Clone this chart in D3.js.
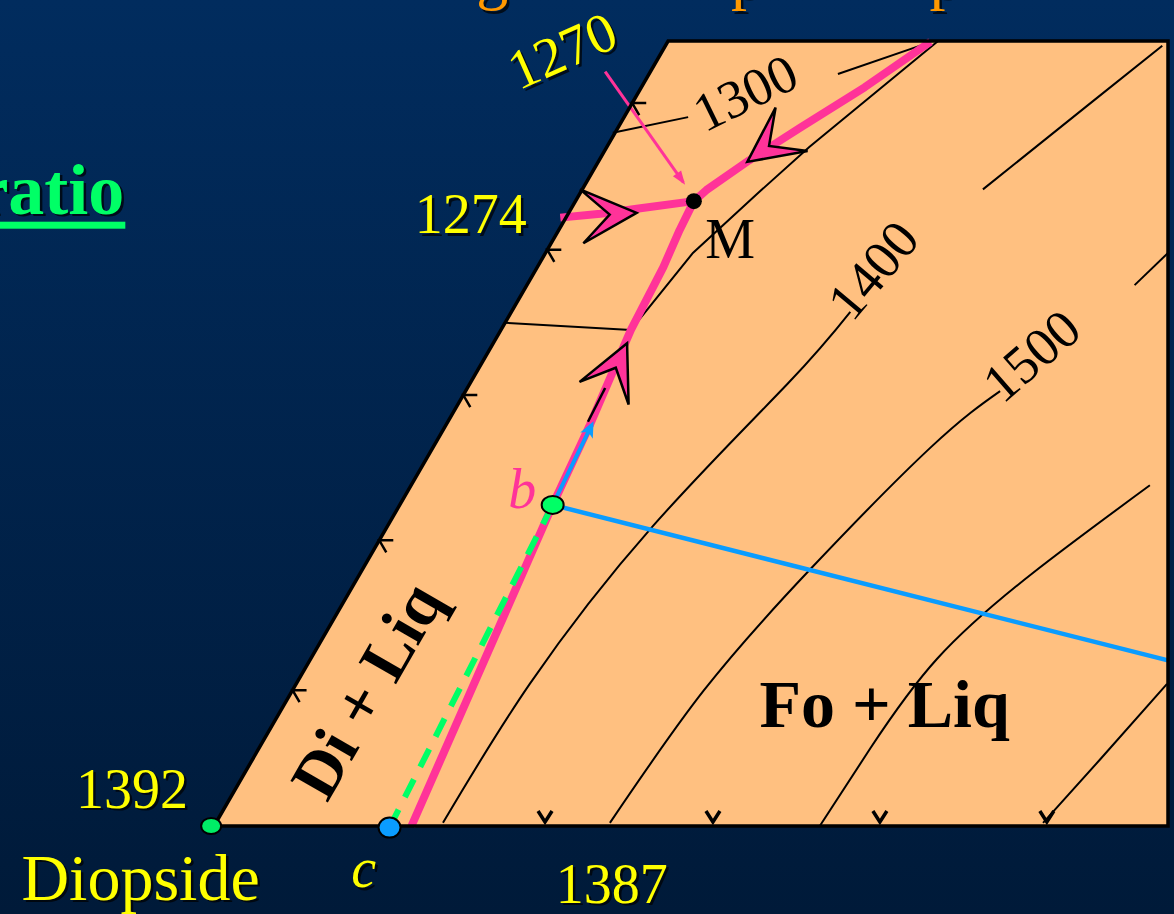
<!DOCTYPE html>
<html>
<head>
<meta charset="utf-8">
<script src="https://cdn.jsdelivr.net/npm/d3@7"></script>
<style>
  body { margin: 0; overflow: hidden; background: #001c3c; }
  text { font-family: 'Liberation Serif', 'Times New Roman', serif; }
</style>
</head>
<body>
<div id="chart"></div>
<script>
const width = 1174, height = 914

// coordinates: x = % across the frame (Diopside side = 0), y = % up the frame
const outline = [[0, 0], [100, 0], [100, 100], [47.6, 100]]

// liquidus isotherms (black)
const iso1300a = [[41.8, 88.3], [49.7, 90.3]]
const iso1300b = [[65.4, 95.8], [74.5, 99.6]]
const isoEdge = [[75.9, 100], [62.4, 86.5], [57.0, 80.6], [50.2, 73.0], [43.7, 63.2]]
const isoTie = [[30.5, 64.1], [43.7, 63.2]]
const iso1400a = [[24.0, 0.4], [33.1, 18.1], [46.0, 38.2], [60.1, 56.3], [66.7, 65.5]]
const iso1400b = [[80.6, 81.1], [92.3, 92.5], [99.4, 99.4]]
const iso1500a = [[41.5, 0.4], [51.3, 17.2], [62.5, 32.7], [75.1, 48.2], [82.4, 55.4]]
const iso1500b = [[96.5, 68.9], [100, 73.0]]
const iso1600 = [[63.5, 0], [68.8, 9.9], [75.8, 21.3], [85.8, 32.2], [98.1, 43.4]]
const iso1700 = [[86.9, 0.4], [92.9, 8.5], [99.9, 18.1]]

// cotectic / crystallization path (pink)
const pathMain = [[20.7, 0], [35.5, 40.9], [39.4, 51.1], [43.7, 63.2], [47.1, 71.2], [48.8, 75.9], [50.3, 79.6]]
const pathUpper = [[50.3, 79.6], [51.6, 81.0], [56.1, 84.8], [61.5, 89.0], [68.2, 94.1], [75.1, 99.9]]
const pathLeft = [[36.3, 77.5], [40.5, 78.0], [44.7, 78.7], [50.3, 79.6]]
const pointer1270 = [[41.0, 96.1], [49.2, 82.0]]

// arrowheads: tip and a point behind it on the same line
const arrows = [
  { tip: [43.3, 61.5], from: [35.5, 40.9] },
  { tip: [44.3, 78.1], from: [36.3, 77.5] },
  { tip: [55.9, 84.6], from: [62.5, 90.5] }
]

// liquid path of bulk composition
const pointB = [35.5, 40.9]
const pointC = [18.4, -0.2]
const pointDi = [-0.3, 0]
const pointM = [50.3, 79.6]
const blueArrow = [[35.5, 40.9], [39.6, 51.1]]
const blueTie = [[35.5, 40.9], [100, 21.1]]
const blackBit = [[39.2, 51.5], [41.0, 55.8]]

// ticks
const leftTicks = [17.3, 36.4, 54.9, 73.4, 92.1]
const bottomTicks = [34.7, 52.3, 69.8, 87.3]

// labels
const yellowLabels = [
  { t: '1274', p: [26.9, 75.5] },
  { t: '1392', p: [-8.6, 2.3] },
  { t: '1387', p: [41.7, -9.8] }
]
const label1270 = { t: '1270', p: [36.5, 98.8] }
const isoLabels = [
  { t: '1300', p: [55.7, 93.4], r: -26 },
  { t: '1400', p: [69.1, 70.8], r: -50 },
  { t: '1500', p: [85.7, 59.9], r: -41 }
]
const titleGlyphs = [{ t: 'g', p: [27.5, 105.6] }, { t: 'p', p: [54.2, 105.6] }, { t: 'p', p: [75.0, 105.6] }]

const x = d3.scaleLinear().domain([0, 100]).range([214, 1168])
const y = d3.scaleLinear().domain([0, 100]).range([826, 41])
const line = d3.line().x(d => x(d[0])).y(d => y(d[1]))
const smooth = d3.line().x(d => x(d[0])).y(d => y(d[1])).curve(d3.curveNatural)

const svg = d3.select('#chart').append('svg')
  .attr('width', width).attr('height', height)

const defs = svg.append('defs')
const grad = defs.append('linearGradient').attr('id', 'bg')
  .attr('x1', 0).attr('y1', 0).attr('x2', 0).attr('y2', 1)
grad.append('stop').attr('offset', '0%').attr('stop-color', '#012c5e')
grad.append('stop').attr('offset', '100%').attr('stop-color', '#001a39')

svg.append('rect').attr('width', width).attr('height', height).attr('fill', 'url(#bg)')

// shadowed text helper
function shadowText(g, d, color, size, opts = {}) {
  const tr = opts.rotate ? ` rotate(${opts.rotate})` : ''
  const base = `translate(${x(d.p[0])},${y(d.p[1])})${tr}`
  ;[['#000', 2.5], [color, 0]].forEach(([c, off]) => {
    g.append('text')
      .attr('transform', `translate(${off},${off}) ` + base)
      .attr('text-anchor', opts.anchor || 'middle')
      .attr('dominant-baseline', opts.central ? 'central' : 'auto')
      .style('font-size', size + 'px')
      .style('font-style', opts.italic ? 'italic' : 'normal')
      .style('font-weight', opts.bold ? 'bold' : 'normal')
      .attr('fill', c)
      .attr('opacity', off ? 0.7 : 1)
      .text(d.t)
  })
}

// title descenders, cut by the top of the frame
titleGlyphs.forEach(d => shadowText(svg, d, '#ff9900', 64, { anchor: 'start' }))

// "ratio" (underlined)
const ratio = { t: 'ratio', p: [-9.4, 78.0] }
shadowText(svg, ratio, '#00ff66', 72, { anchor: 'end', bold: true })
svg.append('rect')
  .attr('x', 0).attr('y', y(78.0) + 8)
  .attr('width', x(-9.4) + 1).attr('height', 7)
  .attr('fill', '#00ff66')

// field
svg.append('path')
  .attr('d', line(outline) + 'Z')
  .attr('fill', '#ffc080')

// isotherms
;[iso1400a, iso1500a, iso1600, iso1700].forEach(d => {
  svg.append('path').attr('d', smooth(d)).attr('fill', 'none')
    .attr('stroke', '#000').attr('stroke-width', 2)
})
;[iso1300a, iso1300b, isoEdge, isoTie, iso1400b, iso1500b].forEach(d => {
  svg.append('path').attr('d', line(d)).attr('fill', 'none')
    .attr('stroke', '#000').attr('stroke-width', 2)
})

// ticks on the left side
svg.selectAll('.ltick').data(leftTicks).join('path')
  .attr('class', 'ltick')
  .attr('d', d => {
    const px = x(47.6 * d / 100), py = y(d)
    return `M${px + 14},${py}L${px},${py}L${px + 7},${py + 12}`
  })
  .attr('fill', 'none').attr('stroke', '#000').attr('stroke-width', 2.5)

// ticks on the bottom side
svg.selectAll('.btick').data(bottomTicks).join('path')
  .attr('class', 'btick')
  .attr('d', d => {
    const px = x(d), py = y(0) - 4
    return `M${px - 7},${py - 11}L${px},${py}L${px + 7},${py - 11}`
  })
  .attr('fill', 'none').attr('stroke', '#000').attr('stroke-width', 3.5)

// blue tie line
svg.append('path').attr('d', line(blueTie))
  .attr('stroke', '#0a9cff').attr('stroke-width', 4.5).attr('fill', 'none')

// pink crystallization path
;[pathMain, pathUpper, pathLeft].forEach(d => {
  svg.append('path').attr('d', line(d)).attr('fill', 'none')
    .attr('stroke', '#ff3399').attr('stroke-width', 8)
    .attr('stroke-linejoin', 'round')
})

// green dashed line c -> b
svg.append('path').attr('d', line([pointC, pointB]))
  .attr('stroke', '#00ff66').attr('stroke-width', 6)
  .attr('stroke-dasharray', '20,14').attr('fill', 'none')

// blue arrow b -> up
svg.append('path').attr('d', line(blueArrow))
  .attr('stroke', '#0a9cff').attr('stroke-width', 4).attr('fill', 'none')
{
  const [f, t] = blueArrow
  const a = Math.atan2(y(t[1]) - y(f[1]), x(t[0]) - x(f[0])) * 180 / Math.PI
  svg.append('path')
    .attr('d', 'M4,0L-12,-7L-8,0L-12,7Z')
    .attr('transform', `translate(${x(t[0])},${y(t[1])}) rotate(${a})`)
    .attr('fill', '#0a9cff')
}
svg.append('path').attr('d', line(blackBit))
  .attr('stroke', '#000').attr('stroke-width', 2.5)

// pink arrowheads
arrows.forEach(d => {
  const tx = x(d.tip[0]), ty = y(d.tip[1])
  const a = Math.atan2(ty - y(d.from[1]), tx - x(d.from[0])) * 180 / Math.PI
  svg.append('path')
    .attr('d', 'M0,0L-55,-27L-27,0L-55,27Z')
    .attr('transform', `translate(${tx},${ty}) rotate(${a})`)
    .attr('fill', '#ff3399').attr('stroke', '#000').attr('stroke-width', 2.5)
    .attr('stroke-linejoin', 'miter')
})

// pointer for 1270
svg.append('path').attr('d', line(pointer1270))
  .attr('stroke', '#ff3399').attr('stroke-width', 3).attr('fill', 'none')
{
  const [f, t] = pointer1270
  const a = Math.atan2(y(t[1]) - y(f[1]), x(t[0]) - x(f[0])) * 180 / Math.PI
  svg.append('path')
    .attr('d', 'M3,0L-11,-5L-11,5Z')
    .attr('transform', `translate(${x(t[0])},${y(t[1])}) rotate(${a})`)
    .attr('fill', '#ff3399')
}

// frame outline
svg.append('path')
  .attr('d', line(outline) + 'Z')
  .attr('fill', 'none').attr('stroke', '#000').attr('stroke-width', 3.5)
  .attr('stroke-linejoin', 'miter')

// points
svg.append('ellipse').attr('cx', x(pointDi[0])).attr('cy', y(pointDi[1]))
  .attr('rx', 10).attr('ry', 8).attr('fill', '#00ee66').attr('stroke', '#000').attr('stroke-width', 2)
svg.append('ellipse').attr('cx', x(pointC[0])).attr('cy', y(pointC[1]))
  .attr('rx', 11).attr('ry', 10).attr('fill', '#0a9cff').attr('stroke', '#000').attr('stroke-width', 2)
svg.append('ellipse').attr('cx', x(pointB[0])).attr('cy', y(pointB[1]))
  .attr('rx', 11).attr('ry', 9).attr('fill', '#00ff66').attr('stroke', '#000').attr('stroke-width', 2)
svg.append('circle').attr('cx', x(pointM[0])).attr('cy', y(pointM[1]))
  .attr('r', 8).attr('fill', '#000')

// labels
yellowLabels.forEach(d => shadowText(svg, d, '#ffff00', 56))
shadowText(svg, label1270, '#ffff00', 56, { rotate: -24, central: true })
shadowText(svg, { t: 'Diopside', p: [-7.7, -9.4] }, '#ffff00', 66)
shadowText(svg, { t: 'c', p: [15.7, -7.8] }, '#ffff00', 56, { italic: true })

isoLabels.forEach(d => {
  svg.append('text')
    .attr('transform', `translate(${x(d.p[0])},${y(d.p[1])}) rotate(${d.r})`)
    .attr('text-anchor', 'middle').attr('dominant-baseline', 'central')
    .style('font-size', '54px').attr('fill', '#000').text(d.t)
})

svg.append('text')
  .attr('x', x(54.1)).attr('y', y(72.4))
  .attr('text-anchor', 'middle').style('font-size', '56px').attr('fill', '#000').text('M')

svg.append('text')
  .attr('x', x(32.3)).attr('y', y(40.5))
  .attr('text-anchor', 'middle').style('font-size', '56px').style('font-style', 'italic')
  .attr('fill', '#ff3399').text('b')

svg.append('text')
  .attr('transform', `translate(${x(16.0)},${y(17.3)}) rotate(-60)`)
  .attr('text-anchor', 'middle').attr('dominant-baseline', 'central')
  .style('font-size', '66px').style('font-weight', 'bold').attr('fill', '#000').text('Di + Liq')

svg.append('text')
  .attr('x', x(70.3)).attr('y', y(12.6))
  .attr('text-anchor', 'middle')
  .style('font-size', '68px').style('font-weight', 'bold').attr('fill', '#000').text('Fo + Liq')
</script>
</body>
</html>
